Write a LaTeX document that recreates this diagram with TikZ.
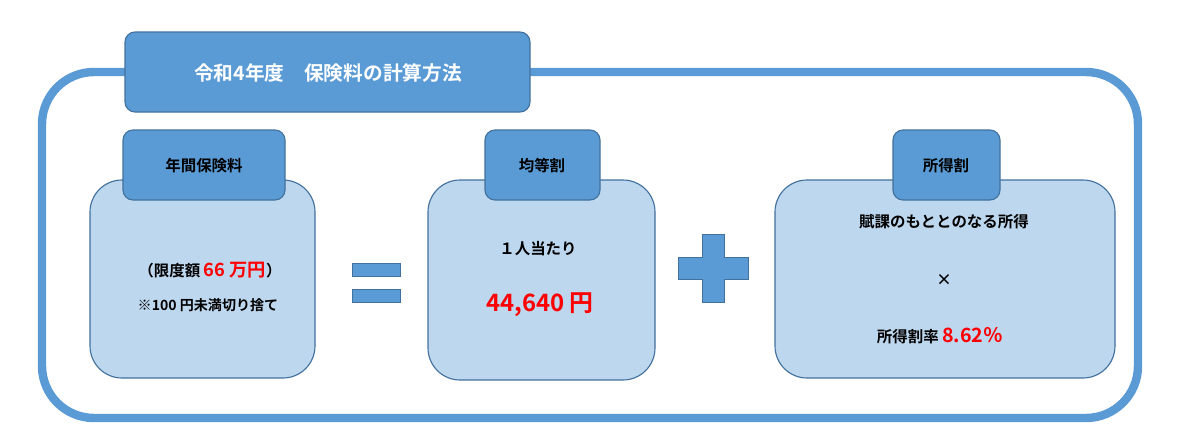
\documentclass[tikz,border=0pt]{standalone}
\usepackage{fontspec}
\setmainfont{Noto Sans CJK JP}[BoldFont={Noto Sans CJK JP Bold}]
\definecolor{tabblue}{HTML}{5B9BD5}
\definecolor{edgeblue}{HTML}{41719C}
\definecolor{paleblue}{HTML}{BDD7EE}
\usetikzlibrary{positioning}
\begin{document}
\begin{tikzpicture}[x=0.025cm,y=-0.025cm,
  panel/.style={draw=edgeblue,fill=paleblue,rounded corners=0.8cm,line width=0.8pt},
  tab/.style={draw=edgeblue,fill=tabblue,rounded corners=0.25cm,line width=0.8pt},
  txt/.style={font=\bfseries\fontsize{11}{13}\selectfont},
  big/.style={font=\bfseries\fontsize{17}{20}\selectfont,text=red}]
\useasboundingbox (0,0) rectangle (1193,448);
% frame and title
\draw[tabblue,line width=6pt,fill=white,rounded corners=1.3cm] (42,72) rectangle (1138,418);
\draw[tab] (125,32) rectangle (530,112);
\node[text=white,font=\bfseries\fontsize{14}{16}\selectfont] (title) at (328,73) {令和4年度\quad 保険料の計算方法};
% panels
\draw[panel] (90,180) rectangle (315,378);
\draw[tab] (123,130) rectangle (285,200);
\node[txt] (t1) at (204,166) {年間保険料};
\node[txt] (l1) at (210,270) {（限度額 \textcolor{red}{\fontsize{13}{15}\selectfont 66 万円}）};
\node[txt,font=\bfseries\fontsize{10}{12}\selectfont] (l2) at (208,305) {※100 円未満切り捨て};
\draw[panel] (428,180) rectangle (655,380);
\draw[tab] (485,130) rectangle (600,200);
\node[txt] (t2) at (542,166) {均等割};
\node[txt] (m1) at (538,249) {１人当たり};
\node[big] (m2) at (540,305) {44,640 円};
\draw[panel] (775,180) rectangle (1115,378);
\draw[tab] (893,130) rectangle (1000,200);
\node[txt] (t3) at (946,166) {所得割};
\node[txt] (r1) at (944,222) {賦課のもととのなる所得};
\node[txt] (r2) at (944,280) {×};
\node[txt] (r3) at (940,336) {所得割率 \textcolor{red}{\fontsize{14}{16}\selectfont 8.62％}};
% operators
\draw[edgeblue,fill=tabblue] (352,263) rectangle (400,276);
\draw[edgeblue,fill=tabblue] (352,289) rectangle (400,302);
\draw[edgeblue,fill=tabblue] (702,234) -- (724,234) -- (724,257) -- (748,257) -- (748,279)
  -- (724,279) -- (724,302) -- (702,302) -- (702,279) -- (678,279) -- (678,257) -- (702,257) -- cycle;
\end{tikzpicture}
\end{document}
